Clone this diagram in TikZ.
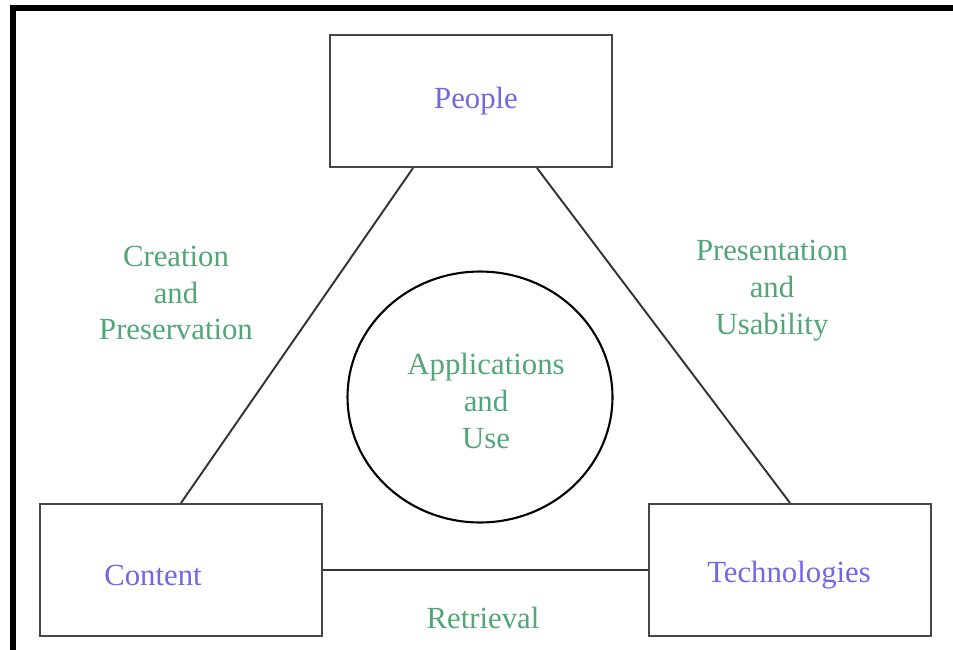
\documentclass[tikz,border=0pt]{standalone}
\usepackage{fontspec}
\setmainfont{Liberation Serif}
\usetikzlibrary{shapes.geometric}

\definecolor{peopleblue}{RGB}{112,102,232}
\definecolor{linkgreen}{RGB}{82,165,118}
\definecolor{boxgray}{RGB}{70,70,70}

\begin{document}
\begin{tikzpicture}[
        x=0.02cm, y=-0.02cm,
        font=\fontsize{17.5}{21}\selectfont,
        box/.style={draw=boxgray, line width=1.2pt, minimum width=5.64cm, minimum height=2.64cm, inner sep=0pt},
        boxtext/.style={text=peopleblue, yshift=-0.07cm},
        linktext/.style={text=linkgreen, align=center},
        link/.style={draw=black!80, line width=1.1pt}
    ]
        \useasboundingbox (0, 0) rectangle (953, 649);

        % frame on the left and top
        \draw[line width=3.4pt, line cap=rect] (13, 649) -- (13, 8) -- (953, 8);

        % the three boxes
        \node[box] (people) at (471, 101) {};
        \node[box] (content) at (181, 570) {};
        \node[box] (tech) at (790, 570) {};

        \node[boxtext] (people-text) at (476, 98) {People};
        \node[boxtext] (content-text) at (153, 572) {Content};
        \node[boxtext] (tech-text) at (789, 572) {Technologies};

        % centre
        \node[ellipse, draw, line width=1.2pt, minimum width=5.3cm, minimum height=5.02cm] (use) at (480, 397) {};
        \node[linktext] (use-text) at (486, 401) {Applications\\and\\Use};

        % sides of the triangle
        \draw[link] ([xshift=-1.16cm]people.south) -- (content.north);
        \draw[link] ([xshift=1.32cm]people.south) -- (tech.north);
        \draw[link] (content.east) -- (tech.west);

        \node[linktext] (creation) at (176, 293) {Creation\\and\\Preservation};
        \node[linktext] (presentation) at (772, 291) {Presentation\\and\\Usability};
        \node[linktext] (retrieval) at (483, 618) {Retrieval};
    \end{tikzpicture}
\end{document}
